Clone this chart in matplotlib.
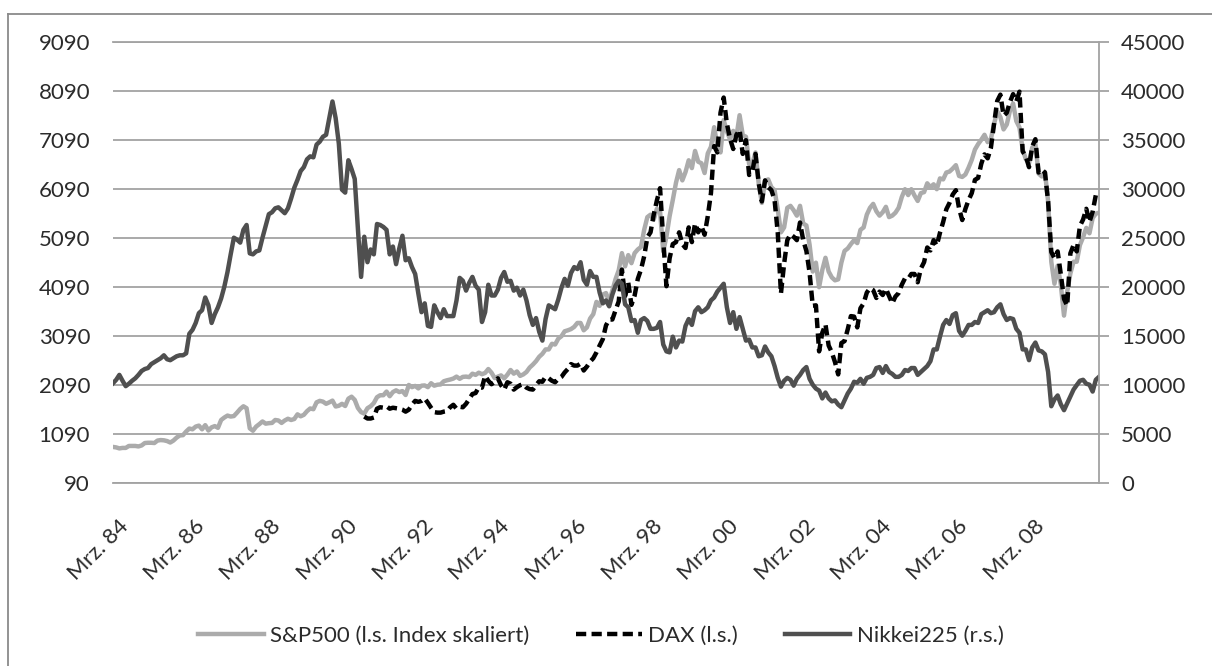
import matplotlib
matplotlib.use("Agg")
import matplotlib.pyplot as plt
from matplotlib.lines import Line2D
from matplotlib.transforms import ScaledTranslation
import numpy as np

plt.rcParams['font.family'] = ['Lato', 'DejaVu Sans']

# ---- data (monthly, Mar 1984 .. Jan 2010) ----
start_year, start_month = 1984, 3

# S&P500, scaled onto left axis
sp500 = [
    820, 810, 790, 800, 800, 840, 840, 840, 830, 850,                    # 1984 Mar-Dec
    900, 905, 905, 900, 950, 960, 955, 940, 910, 950, 1010, 1055,        # 1985
    1060, 1135, 1195, 1180, 1235, 1255, 1180, 1265, 1155, 1220, 1245, 1210,  # 1986
    1370, 1420, 1460, 1440, 1450, 1520, 1595, 1650, 1610, 1200, 1150, 1235,  # 1987
    1285, 1340, 1295, 1305, 1310, 1370, 1360, 1310, 1360, 1395, 1370, 1390,  # 1988
    1485, 1445, 1475, 1550, 1605, 1590, 1730, 1760, 1745, 1700, 1730, 1765,  # 1989
    1645, 1660, 1700, 1655, 1805, 1845, 1780, 1615, 1530, 1500, 1610, 1650,  # 1990
    1715, 1835, 1875, 1875, 1950, 1855, 1940, 1975, 1940, 1960, 1880, 2085,  # 1991
    2040, 2065, 2015, 2070, 2075, 2040, 2120, 2070, 2090, 2095, 2160, 2180,  # 1992
    2195, 2215, 2255, 2210, 2250, 2255, 2245, 2315, 2290, 2335, 2305, 2330,  # 1993
    2410, 2335, 2225, 2255, 2280, 2220, 2295, 2390, 2315, 2360, 2270, 2300,  # 1994
    2350, 2440, 2500, 2570, 2660, 2720, 2810, 2810, 2925, 2910, 3030, 3080,  # 1995
    3180, 3200, 3225, 3270, 3350, 3350, 3200, 3260, 3440, 3530, 3780, 3700,  # 1996
    3930, 3960, 3785, 4010, 4245, 4425, 4775, 4505, 4735, 4570, 4775, 4850,  # 1997
    4900, 5250, 5510, 5560, 5460, 5680, 5620, 4810, 5115, 5530, 5860, 6210,  # 1998
    6470, 6260, 6430, 6670, 6510, 6860, 6640, 6610, 6410, 6810, 6945, 7345,  # 1999
    6970, 6830, 7490, 7260, 7100, 7270, 7150, 7590, 7180, 7150, 6590, 6600,  # 2000
    6830, 6200, 5800, 6250, 6280, 6120, 6060, 5665, 5200, 5300, 5700, 5740,  # 2001
    5650, 5540, 5740, 5380, 5340, 4950, 4400, 4580, 4080, 4430, 4680, 4400,  # 2002
    4280, 4220, 4240, 4580, 4820, 4870, 4960, 5040, 4980, 5250, 5300, 5560,  # 2003
    5700, 5780, 5630, 5540, 5610, 5720, 5510, 5540, 5600, 5700, 5920, 6080,  # 2004
    5960, 6080, 5950, 5840, 6000, 6020, 6200, 6120, 6180, 6080, 6300, 6280,  # 2005
    6420, 6440, 6500, 6570, 6350, 6330, 6380, 6520, 6680, 6890, 7000, 7090,  # 2006
    7190, 7040, 7100, 7410, 7670, 7550, 7300, 7400, 7680, 7830, 7470, 7340,  # 2007
    6890, 6690, 6610, 6930, 7000, 6400, 6340, 6430, 5830, 4600, 4150, 4520,  # 2008
    4130, 3500, 3990, 4360, 4600, 4600, 4940, 5100, 5290, 5180, 5490, 5580,  # 2009
    5600,                                                                # 2010 Jan
]

# DAX (left axis), begins Oct 1990
dax_start_year, dax_start_month = 1990, 10
dax = [
    1440, 1400, 1400,                                                    # 1990 Oct-Dec
    1420, 1600, 1630, 1620, 1650, 1600, 1620, 1610, 1600, 1580, 1540, 1580,  # 1991
    1680, 1760, 1740, 1760, 1810, 1720, 1620, 1530, 1520, 1520, 1540, 1550,  # 1992
    1630, 1680, 1600, 1640, 1630, 1700, 1800, 1900, 1920, 2040, 2030, 2270,  # 1993
    2170, 2100, 2150, 2220, 2080, 1990, 2140, 2110, 1990, 2040, 2080, 2100,  # 1994
    2030, 2000, 1990, 2080, 2160, 2150, 2250, 2220, 2170, 2140, 2210, 2250,  # 1995
    2340, 2410, 2510, 2480, 2480, 2520, 2380, 2460, 2560, 2630, 2750, 2890,  # 1996
    3020, 3300, 3420, 3420, 3610, 3790, 4440, 3900, 4170, 3720, 3910, 4250,  # 1997
    4440, 4710, 5100, 5200, 5560, 5850, 6100, 5050, 4100, 4670, 4960, 5000,  # 1998
    5200, 4960, 4880, 5300, 5000, 5380, 5200, 5330, 5150, 5530, 6000, 6960,  # 1999
    6830, 7640, 7950, 7420, 7110, 6900, 7190, 7290, 6800, 7080, 6370, 6430,  # 2000
    6800, 6210, 5830, 6260, 6120, 6060, 5860, 5190, 3950, 4560, 5040, 5160,  # 2001
    5110, 5040, 5400, 5040, 4820, 4380, 3700, 3710, 2770, 3150, 3320, 2890,  # 2002
    2750, 2550, 2300, 2940, 2980, 3220, 3490, 3480, 3260, 3650, 3750, 3970,  # 2003
    4060, 4020, 3860, 3990, 3920, 4050, 3900, 3750, 3890, 3960, 4130, 4260,  # 2004
    4250, 4350, 4350, 4180, 4460, 4590, 4890, 4830, 5040, 4930, 5190, 5410,  # 2005
    5670, 5800, 5970, 6060, 5690, 5450, 5680, 5860, 6000, 6270, 6310, 6600,  # 2006
    6790, 6710, 6920, 7410, 7880, 8010, 7580, 7640, 7860, 8020, 7870, 8070,  # 2007
    6850, 6750, 6530, 6950, 7100, 6420, 6480, 6420, 5830, 4800, 4670, 4810,  # 2008
    4340, 3840, 3700, 4770, 4940, 4810, 5330, 5460, 5680, 5410, 5620, 5960,  # 2009
    6000,                                                                # 2010 Jan
]

# Nikkei 225 (right axis)
nikkei = [
    10150, 10500, 11000, 10400, 9850, 10100, 10400, 10650, 11000, 11400,      # 1984 Mar-Dec
    11600, 11700, 12100, 12300, 12500, 12700, 13000, 12600, 12500, 12700, 12900, 13000,  # 1985
    13000, 13200, 15200, 15600, 16300, 17300, 17600, 18900, 18100, 16300, 17200, 17900,  # 1986
    18800, 20000, 21500, 23300, 25000, 24800, 24500, 25800, 26300, 23400, 23300, 23600,  # 1987
    23700, 25000, 26200, 27400, 27600, 28000, 28100, 27800, 27500, 28000, 29000, 30100,  # 1988
    30900, 31800, 32200, 33000, 33300, 33200, 34500, 34800, 35300, 35500, 37200, 38900,  # 1989
    37200, 34600, 29900, 29600, 32900, 32000, 31000, 25900, 21000, 25100, 22500, 23800,  # 1990
    23300, 26400, 26300, 26100, 25800, 23300, 24100, 22300, 23900, 25200, 22700, 22900,  # 1991
    22000, 21300, 19300, 17400, 18300, 16000, 15900, 18100, 17400, 16800, 17700, 17000,  # 1992
    17000, 17000, 18600, 20900, 20600, 19600, 20400, 21000, 20100, 19700, 16400, 17400,  # 1993
    20200, 19100, 19100, 19700, 20900, 21500, 20500, 20600, 19600, 19900, 19100, 19700,  # 1994
    18600, 17100, 16100, 16800, 15400, 14500, 16700, 18100, 17900, 17700, 18700, 19900,  # 1995
    20800, 20100, 21400, 22000, 21800, 22500, 20700, 20200, 21600, 21000, 21000, 19400,  # 1996
    18300, 18600, 18000, 19200, 20100, 20600, 20300, 18200, 17900, 16500, 16600, 15300,  # 1997
    16600, 16800, 16500, 15700, 15700, 15800, 16400, 14100, 13400, 13300, 14900, 13800,  # 1998
    14500, 14400, 16000, 16700, 16100, 17500, 17900, 17400, 17600, 17900, 18600, 18900,  # 1999
    19500, 19900, 20300, 17900, 16300, 17400, 15700, 16900, 15700, 14500, 14600, 13800,  # 2000
    13800, 12900, 13000, 13900, 13300, 12900, 11900, 10700, 9800, 10400, 10700, 10500,  # 2001
    9900, 10600, 11000, 11500, 11800, 10600, 10000, 9600, 9400, 8600, 9200, 8600,        # 2002
    8300, 8400, 7970, 7700, 8400, 9100, 9600, 10300, 10200, 10600, 10100, 10700,        # 2003
    10800, 11000, 11700, 11800, 11200, 11900, 11300, 11100, 10800, 10800, 11000, 11500,  # 2004
    11400, 11700, 11700, 11000, 11300, 11600, 11900, 12400, 13600, 13600, 14900, 16100,  # 2005
    16600, 16200, 17100, 17300, 15500, 15000, 15500, 16100, 16100, 16400, 16300, 17200,  # 2006
    17400, 17600, 17300, 17400, 17900, 18200, 17200, 16600, 16800, 16700, 15700, 15300,  # 2007
    13600, 13600, 12500, 13800, 14300, 13500, 13400, 13100, 11300, 7800, 8500, 8900,    # 2008
    8000, 7400, 8100, 8800, 9500, 9960, 10400, 10500, 10100, 10000, 9300, 10500,        # 2009
    10800,                                                                            # 2010 Jan
]

tick_labels = ["Mrz. 84", "Mrz. 86", "Mrz. 88", "Mrz. 90", "Mrz. 92", "Mrz. 94",
               "Mrz. 96", "Mrz. 98", "Mrz. 00", "Mrz. 02", "Mrz. 04", "Mrz. 06", "Mrz. 08"]
left_ticks = [90, 1090, 2090, 3090, 4090, 5090, 6090, 7090, 8090, 9090]
right_ticks = [0, 5000, 10000, 15000, 20000, 25000, 30000, 35000, 40000, 45000]
series_names = ["S&P500 (l.s. Index skaliert)", "DAX (l.s.)", "Nikkei225 (r.s.)"]

# ---- positions (fractional years) ----
t0 = start_year + (start_month - 1) / 12.0
x_main = t0 + np.arange(len(sp500)) / 12.0
x_nik = t0 + np.arange(len(nikkei)) / 12.0
t_dax = dax_start_year + (dax_start_month - 1) / 12.0
x_dax = t_dax + np.arange(len(dax)) / 12.0
tick_pos = t0 + 2.0 * np.arange(len(tick_labels))

W, H = 1212, 666
fig = plt.figure(figsize=(W / 100, H / 100), dpi=100)
fig.patch.set_facecolor('white')

L, R, T, B = 113, 1099, 41.7, 482.7
ax = fig.add_axes([L / W, 1 - B / H, (R - L) / W, (B - T) / H])
ax2 = ax.twinx()

grid_c = '#a3a3a3'
txt_c = '#2b2b2b'
FS = 16

l1, = ax.plot(x_main, sp500, color='#ababab', lw=3.2, solid_joinstyle='round', zorder=2)
l2, = ax.plot(x_dax, dax, color='black', lw=3.2, dashes=(2.3, 1.2), zorder=3)
l3, = ax2.plot(x_nik, nikkei, color='#4f4f4f', lw=3.2, solid_joinstyle='round', zorder=2)

ax.set_xlim(t0, x_main[-1])
ax.set_ylim(90, 9090)
ax2.set_ylim(0, 45000)

ax.set_yticks(left_ticks)
ax.set_yticklabels([str(v) for v in left_ticks])
ax2.set_yticks(right_ticks)
ax2.set_yticklabels([str(v) for v in right_ticks])
ax.set_xticks(tick_pos)
ax.set_xticklabels(tick_labels)

ax.grid(axis='y', color=grid_c, lw=1.3)
ax.grid(axis='x', visible=False)
ax.set_axisbelow(True)

for s in ['left', 'right']:
    ax.spines[s].set_visible(False)
for s in ['top', 'bottom']:
    ax.spines[s].set_color(grid_c)
    ax.spines[s].set_linewidth(1.3)
for s in ['left', 'top', 'bottom']:
    ax2.spines[s].set_visible(False)
ax2.spines['right'].set_color(grid_c)
ax2.spines['right'].set_linewidth(1.3)

ax.tick_params(axis='y', length=0, pad=16.5, labelsize=FS, labelcolor=txt_c)
ax.tick_params(axis='x', length=0, pad=24, labelsize=FS, labelcolor=txt_c)
ax2.tick_params(axis='y', length=7, width=1.3, color=grid_c, pad=9, labelsize=FS, labelcolor=txt_c)

off = ScaledTranslation(5 / 100, 0, fig.dpi_scale_trans)
for lab in ax.get_xticklabels():
    lab.set_rotation(45)
    lab.set_ha('right')
    lab.set_va('top')
    lab.set_rotation_mode('anchor')
    lab.set_transform(lab.get_transform() + off)

leg = fig.legend([l1, l2, l3], series_names, loc='center left',
                 bbox_to_anchor=(198 / W, 1 - 636 / H), ncol=3, frameon=False,
                 fontsize=FS, handlelength=2.95, handletextpad=0.3,
                 columnspacing=2.1, borderpad=0, borderaxespad=0)
for t in leg.get_texts():
    t.set_color(txt_c)

# outer chart border
bc = '#8a8a8a'
fig.add_artist(Line2D([8 / W, 8 / W], [0, 1 - 14 / H], transform=fig.transFigure, color=bc, lw=1.3))
fig.add_artist(Line2D([8 / W, 1], [1 - 14 / H, 1 - 14 / H], transform=fig.transFigure, color=bc, lw=1.3))

fig.savefig('out.png', dpi=100, facecolor='white')
